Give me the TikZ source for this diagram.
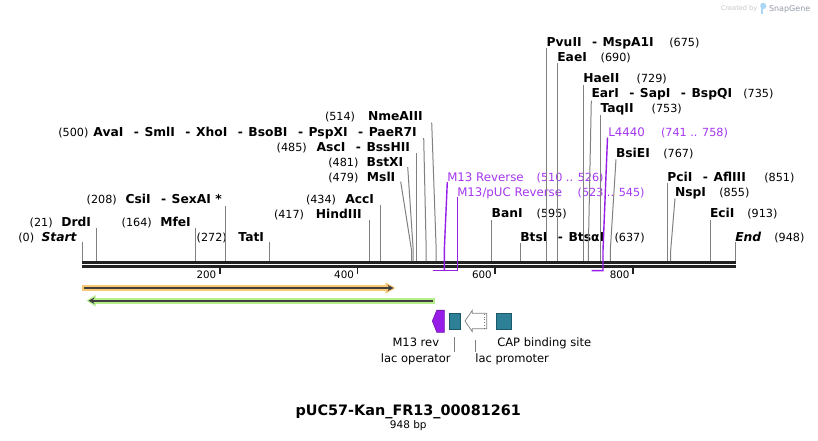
\documentclass[tikz,border=0pt]{standalone}
\usepackage{fontspec}
\setmainfont{DejaVu Sans}
\usetikzlibrary{arrows.meta}
\definecolor{primt}{RGB}{165,55,240}
\definecolor{priml}{RGB}{150,30,230}
\definecolor{tealf}{RGB}{46,128,150}
\definecolor{teald}{RGB}{28,88,108}
\definecolor{bbc}{RGB}{34,34,34}
\definecolor{lnc}{RGB}{128,128,128}
\definecolor{orband}{RGB}{250,200,115}
\definecolor{grband}{RGB}{182,238,140}
\definecolor{arrdk}{RGB}{64,64,64}
\definecolor{iconb}{RGB}{170,215,245}
\definecolor{sgg}{RGB}{150,155,170}
\newcommand\nmf[1]{{\fontsize{12.3}{14}\selectfont\bfseries #1}}
\newcommand\numf[1]{{\fontsize{11.2}{13}\selectfont #1}}
\newcommand\sepd{\hspace{10.5pt}{\fontsize{12.3}{14}\selectfont\bfseries -}\hspace{5.5pt}}
\newcommand\prf[1]{{\fontsize{11.8}{14}\selectfont #1}}
\newcommand\ftf[1]{{\fontsize{11.5}{14}\selectfont #1}}
\begin{document}
\begin{tikzpicture}[x=1pt,y=-1pt,
  lab/.style={inner sep=0pt,outer sep=0pt},
  cut/.style={draw=lnc,line width=1pt},
  pl/.style={draw=priml,line width=1.4pt},
  bbline/.style={draw=bbc,line width=2.7pt},
  tck/.style={draw=bbc,line width=1.8pt}]
\useasboundingbox (0,0) rectangle (818,440);
\fill[white] (0,0) rectangle (818,440);

% watermark
\node[lab,anchor=base east,text=black!22] (cr) at (757.3,10) {\fontsize{6.6}{8}\selectfont Created by};
\fill[iconb] (760.8,3) rectangle (763.3,13.5);
\fill[iconb] (763.3,6) circle (3.1pt);
\node[lab,anchor=base west,text=sgg] (sg) at (769,11) {\fontsize{8}{10}\selectfont SnapGene};

% backbone
\draw[bbline] (82,262.4) -- (735.6,262.4);
\draw[bbline] (82,266.3) -- (735.6,266.3);
\foreach \v/\xx in {200/219.8,400/357.5,600/495.3,800/633.1}{
  \draw[tck] (\xx,267) -- (\xx,273.8);
  \node[lab,anchor=base east] at (\xx-3.6,278) {\fontsize{10.3}{12}\selectfont \v};
}

% ---- left labels ----
\node[lab,anchor=base west] (n0) at (18.3,241.3) {\numf{(0)}};
\node[lab,anchor=base east] (s0) at (76.5,241.3) {\nmf{\itshape Start}};
\node[lab,anchor=base west] (n21) at (29.7,226.2) {\numf{(21)}};
\node[lab,anchor=base east] (s21) at (91,226.2) {\nmf{DrdI}};
\node[lab,anchor=base west] (n164) at (121.7,226.2) {\numf{(164)}};
\node[lab,anchor=base east] (s164) at (190.8,226.2) {\nmf{MfeI}};
\node[lab,anchor=base west] (n208) at (86.7,203.6) {\numf{(208)}};
\node[lab,anchor=base east] (s208) at (221.7,203.6) {\nmf{CsiI}\sepd\nmf{SexAI *}};
\node[lab,anchor=base west] (n272) at (196.7,241.3) {\numf{(272)}};
\node[lab,anchor=base east] (s272) at (264,241.3) {\nmf{TatI}};
\node[lab,anchor=base west] (n417) at (274,218.6) {\numf{(417)}};
\node[lab,anchor=base east] (s417) at (361.7,218.6) {\nmf{HindIII}};
\node[lab,anchor=base west] (n434) at (306,203.6) {\numf{(434)}};
\node[lab,anchor=base east] (s434) at (374,203.6) {\nmf{AccI}};
\node[lab,anchor=base west] (n479) at (328.3,181.3) {\numf{(479)}};
\node[lab,anchor=base east] (s479) at (395.3,181.3) {\nmf{MslI}};
\node[lab,anchor=base west] (n481) at (328.3,166.6) {\numf{(481)}};
\node[lab,anchor=base east] (s481) at (403.3,166.6) {\nmf{BstXI}};
\node[lab,anchor=base west] (n485) at (276.7,151.3) {\numf{(485)}};
\node[lab,anchor=base east] (s485) at (410,151.3) {\nmf{AscI}\sepd\nmf{BssHII}};
\node[lab,anchor=base west] (n500) at (58.3,136.3) {\numf{(500)}};
\node[lab,anchor=base east] (s500) at (416.7,136.3) {\nmf{AvaI}\sepd\nmf{SmlI}\sepd\nmf{XhoI}\sepd\nmf{BsoBI}\sepd\nmf{PspXI}\sepd\nmf{PaeR7I}};
\node[lab,anchor=base west] (n514) at (325,120.6) {\numf{(514)}};
\node[lab,anchor=base east] (s514) at (422.7,120.6) {\nmf{NmeAIII}};

% ---- right labels ----
\node[lab,anchor=base west] (s595) at (491.7,217.9) {\nmf{BanI}};
\node[lab,anchor=base west] (n595) at (536.7,217.9) {\numf{(595)}};
\node[lab,anchor=base west] (s637) at (520.3,241.3) {\nmf{BtsI}\sepd\nmf{BtsαI}};
\node[lab,anchor=base west] (n637) at (614.6,241.3) {\numf{(637)}};
\node[lab,anchor=base west] (s675) at (546.7,46.3) {\nmf{PvuII}\sepd\nmf{MspA1I}};
\node[lab,anchor=base west] (n675) at (669.3,46.3) {\numf{(675)}};
\node[lab,anchor=base west] (s690) at (557.3,61.3) {\nmf{EaeI}};
\node[lab,anchor=base west] (n690) at (600.7,61.3) {\numf{(690)}};
\node[lab,anchor=base west] (s729) at (583.3,82.9) {\nmf{HaeII}};
\node[lab,anchor=base west] (n729) at (636.7,82.9) {\numf{(729)}};
\node[lab,anchor=base west] (s735) at (591.5,97.9) {\nmf{EarI}\sepd\nmf{SapI}\sepd\nmf{BspQI}};
\node[lab,anchor=base west] (n735) at (743.3,97.9) {\numf{(735)}};
\node[lab,anchor=base west] (s753) at (600.5,112.9) {\nmf{TaqII}};
\node[lab,anchor=base west] (n753) at (651.7,112.9) {\numf{(753)}};
\node[lab,anchor=base west] (s767) at (616,157.9) {\nmf{BsiEI}};
\node[lab,anchor=base west] (n767) at (663.3,157.9) {\numf{(767)}};
\node[lab,anchor=base west] (s851) at (667.3,181.3) {\nmf{PciI}\sepd\nmf{AflIII}};
\node[lab,anchor=base west] (n851) at (764.3,181.3) {\numf{(851)}};
\node[lab,anchor=base west] (s855) at (675,196.9) {\nmf{NspI}};
\node[lab,anchor=base west] (n855) at (719.3,196.9) {\numf{(855)}};
\node[lab,anchor=base west] (s913) at (710,217.9) {\nmf{EciI}};
\node[lab,anchor=base west] (n913) at (747.3,217.9) {\numf{(913)}};
\node[lab,anchor=base west] (s948) at (735.3,241.3) {\nmf{\itshape End}};
\node[lab,anchor=base west] (n948) at (774.3,241.3) {\numf{(948)}};

% ---- primer labels ----
\node[lab,anchor=base west,text=primt] (p1) at (447.3,181.2) {\prf{M13 Reverse}};
\node[lab,anchor=base west,text=primt] (p1n) at (536.7,181.2) {\numf{(510 .. 526)}};
\node[lab,anchor=base west,text=primt] (p2) at (457.3,196.2) {\prf{M13/pUC Reverse}};
\node[lab,anchor=base west,text=primt] (p2n) at (577.7,196.2) {\numf{(523 .. 545)}};
\node[lab,anchor=base west,text=primt] (p3) at (608.3,136.2) {\prf{L4440}};
\node[lab,anchor=base west,text=primt] (p3n) at (661,136.2) {\numf{(741 .. 758)}};

% ---- cut lines ----
\draw[cut] (82,241.7) -- (82,261);
\draw[cut] (96.5,227.7) -- (96.5,261);
\draw[cut] (195.3,227.7) -- (195.3,261);
\draw[cut] (225.7,206) -- (225.7,261);
\draw[cut] (269.3,241.7) -- (269.3,261);
\draw[cut] (369.3,220) -- (369.3,261);
\draw[cut] (380.3,205) -- (380.3,261);
\draw[cut] (400.7,181.7) -- (411.5,250) -- (411.5,261);
\draw[cut] (407.7,167) -- (413.2,250) -- (413.2,261);
\draw[cut] (416.3,153) -- (416.3,261);
\draw[cut] (423.7,138) -- (426.2,250) -- (426.2,261);
\draw[cut] (431.7,122.7) -- (436.2,250) -- (436.2,261);
\draw[cut] (491.7,220) -- (491.7,261);
\draw[cut] (520.3,243) -- (520.3,261);
\draw[cut] (546.7,48) -- (546.7,261);
\draw[cut] (557.3,63) -- (557.3,261);
\draw[cut] (583.3,85) -- (583.3,261);
\draw[cut] (591.3,100.7) -- (588.3,250) -- (588.3,261);
\draw[cut] (600.5,115) -- (600.5,261);
\draw[cut] (616,159.3) -- (610.3,250) -- (610.3,261);
\draw[cut] (667.7,183.3) -- (667.7,261);
\draw[cut] (675,198.3) -- (670.7,250) -- (670.7,261);
\draw[cut] (710.5,220) -- (710.5,261);
\draw[cut] (735.3,241.7) -- (735.3,261);

% ---- primer lines ----
\draw[pl] (447.3,182) -- (444.3,250) -- (444.3,270.6);
\draw[pl] (457.3,197) -- (457.3,271.2);
\draw[pl] (433.3,270.6) -- (456.6,270.6);
\draw[pl] (607.5,137.5) -- (603,250) -- (603,270.6) -- (591.7,270.6);

% ---- orange feature arrow ----
\fill[orband] (82.3,284.8) rectangle (388,291.2);
\fill[orband] (385.5,282.3) -- (395.5,288) -- (385.5,293.7) -- cycle;
\draw[arrdk,line width=1.7pt,-{Stealth[length=6pt,width=6.5pt]}] (84,288) -- (393.5,288);

% ---- green feature arrow ----
\fill[grband] (93,297.7) rectangle (435,303.7);
\fill[grband] (95.5,295) -- (86.5,300.7) -- (95.5,306.4) -- cycle;
\draw[arrdk,line width=1.7pt,-{Stealth[length=6pt,width=6.5pt]}] (432.8,300.7) -- (88.5,300.7);

% ---- features row ----
\filldraw[fill=priml,draw=priml!75!black,line width=0.6pt] (432.3,321) -- (436.8,310.2) -- (444.3,310.2) -- (444.3,332.3) -- (436.8,332.3) -- cycle;
\filldraw[fill=tealf,draw=teald,line width=0.6pt] (449,313.3) rectangle (460.7,329.3);
\filldraw[fill=white,draw=black!50,line width=0.7pt] (465,321) -- (472.3,310.3) -- (472.3,313.3) -- (486.7,313.3) -- (486.7,328.7) -- (472.3,328.7) -- (472.3,331.7) -- cycle;
\draw[black!55,line width=0.7pt,dotted] (484,314) -- (484,328);
\filldraw[fill=tealf,draw=teald,line width=0.6pt] (496,313.3) rectangle (511.7,329.3);

\draw[cut,line width=0.8pt] (454.3,337.3) -- (454.3,351.7);
\draw[cut,line width=0.8pt] (475.7,340) -- (475.7,351.7);
\node[lab,anchor=base] (f1) at (415.8,346.7) {\ftf{M13 rev}};
\node[lab,anchor=base] (f2) at (415.8,362.8) {\ftf{lac operator}};
\node[lab,anchor=base west] (f3) at (475.3,362.8) {\ftf{lac promoter}};
\node[lab,anchor=base west] (f4) at (497.3,346.7) {\ftf{CAP binding site}};

% ---- title ----
\node[lab,anchor=base] (ti) at (408.2,415.3) {\fontsize{14.4}{17}\selectfont\bfseries pUC57-Kan\_FR13\_00081261};
\node[lab,anchor=base] (bp) at (408.3,428.1) {\fontsize{10.5}{12}\selectfont 948 bp};
\end{tikzpicture}
\end{document}
